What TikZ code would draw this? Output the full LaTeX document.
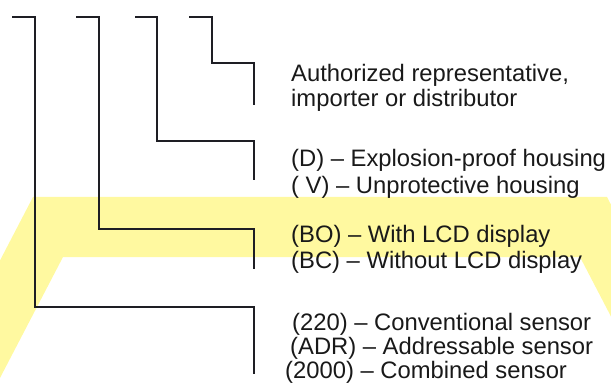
\documentclass[tikz,border=0pt]{standalone}
\usepackage{fontspec}
\setmainfont{Liberation Sans}
\definecolor{bandyellow}{RGB}{255,249,160}
\definecolor{linedark}{RGB}{30,30,36}
\begin{document}
\begin{tikzpicture}[x=1pt,y=-1pt,
  bracket/.style={draw=linedark,line width=1.6pt,line join=miter},
  lbl/.style={anchor=base west,inner sep=0pt,font=\fontsize{23.8}{26}\selectfont,text=black!90}]
\useasboundingbox (0,0) rectangle (611,385);
% pale yellow trapezoid outline in the background
\begin{scope}
  \clip (0,0) rectangle (611,385);
  \fill[bandyellow] (33,197) -- (607,197) -- (763,497) -- (705,497) -- (580,257)
    -- (63,257) -- (-62,497) -- (-123,497) -- cycle;
\end{scope}
% bracket end points
\coordinate (s1) at (12,17);  \coordinate (e1) at (254,374);
\coordinate (s2) at (76,17);  \coordinate (e2) at (254,269);
\coordinate (s3) at (135,17); \coordinate (e3) at (254,180);
\coordinate (s4) at (189,17); \coordinate (e4) at (254,105);
% corner points
\coordinate (c1) at (35,307);
\coordinate (c2) at (99,229);
\coordinate (c3) at (157,141);
\coordinate (c4) at (212,63);
% brackets
\draw[bracket] (s1) -| (c1) -| (e1);
\draw[bracket] (s2) -| (c2) -| (e2);
\draw[bracket] (s3) -| (c3) -| (e3);
\draw[bracket] (s4) -| (c4) -| (e4);
% labels
\node[lbl] (a1) at (291,82) {Authorized representative,};
\node[lbl] (a2) at (291,107) {importer or distributor};
\node[lbl] (b1) at (291,167) {(D) – Explosion-proof housing};
\node[lbl] (b2) at (291,194) {( V) – Unprotective housing};
\node[lbl] (c1t) at (291,243) {(BO) – With LCD display};
\node[lbl] (c2t) at (291,268) {(BC) – Without LCD display};
\node[lbl] (d1) at (292,330) {(220) – Conventional sensor};
\node[lbl] (d2) at (290,354) {(ADR) – Addressable sensor};
\node[lbl] (d3) at (285,378) {(2000) – Combined sensor};
\end{tikzpicture}
\end{document}
